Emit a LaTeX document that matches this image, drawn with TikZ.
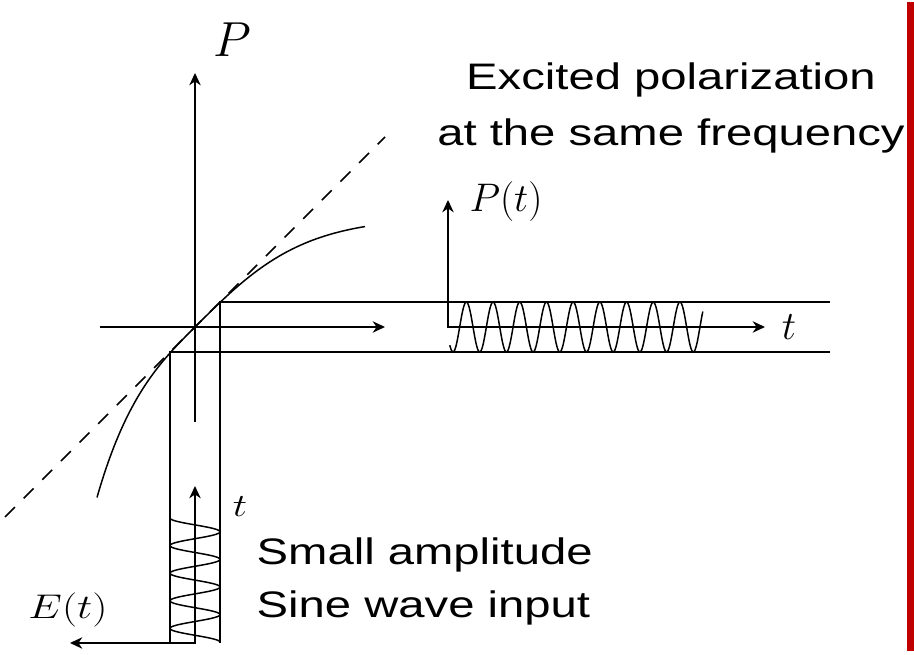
\RequirePackage{fix-cm}
\documentclass[tikz,border=0pt]{standalone}
\usepackage{fontspec}
\usepackage{graphicx}
\newfontfamily\slidefont[FakeStretch=1.28]{Liberation Sans}
\usetikzlibrary{arrows.meta}
\definecolor{slidered}{HTML}{C00000}

\begin{document}
\begin{tikzpicture}[>={Stealth[length=7pt,width=6.5pt,inset=2.2pt]},x=0.02cm,y=0.02cm,line width=0.85pt,
		slidetxt/.style={inner sep=0pt,font=\slidefont\fontsize{21}{25}\selectfont},
		wave/.style={line width=0.85pt}]
	\useasboundingbox (-195,-328) rectangle (719,327);
	% points of the characteristic
	\coordinate (O) at (0,0);
	\coordinate (U) at (25,25);
	\coordinate (L) at (-25,-25);
	\coordinate (Ptop) at (0,254);
	\coordinate (Pbot) at (0,-95);
	\coordinate (Eleft) at (-95,0);
	\coordinate (Eright) at (190,0);
	\coordinate (D1) at (-190,-190);
	\coordinate (D2) at (190,190);
	% band of the output and of the input
	\coordinate (Uend) at (635,25);
	\coordinate (Lend) at (635,-25);
	\coordinate (Ubot) at (25,-316);
	\coordinate (Lbot) at (-25,-316);
	\coordinate (In) at (0,-316);
	\coordinate (InE) at (-125,-316);
	\coordinate (InT) at (0,-159);
	\coordinate (Out) at (253,0);
	\coordinate (OutP) at (253,127);
	\coordinate (OutT) at (570,0);
	\draw[->] (Pbot) -- (Ptop);
	\draw[->] (Eleft) -- (Eright);
	\draw[dash pattern=on 8pt off 7pt] (D1) -- (D2);
	\draw[domain=-98:0,samples=60] plot (\x,{51*sinh(\x/51)}) -- plot[domain=0:170,samples=60] (\x,{110*tanh(\x/110)});
	\draw (Uend) -- (U) -- (Ubot);
	\draw (Lend) -- (L) -- (Lbot);
	\draw[<->] (InE) -- (In) -- (InT);
	\draw[<->] (OutP) -- (Out) -- (OutT);
	% sine waves
	\draw[wave,domain=0:4.5,samples=200] plot ({-25*cos(360*\x)},{-191-27.6*\x});
	\draw[wave,domain=-0.12:9.36,samples=300] plot ({258+26.7*\x},{-25*cos(360*\x)});
	% labels
	\node (plab) at (37,287) {\fontsize{28}{30}\selectfont$P$};
	\node (ptlab) at (311,125) {\fontsize{22.7}{25}\selectfont$P(t)$};
	\node (toutlab) at (594,0) {\fontsize{23}{25}\selectfont$t$};
	\node (tinlab) at (45,-180) {\scalebox{1.25}[1]{\fontsize{18.4}{20}\selectfont$t$}};
	\node (elab) at (-127,-283) {\scalebox{1.25}[1]{\fontsize{19.5}{21}\selectfont$E(t)$}};
	\node[slidetxt,anchor=base] (outtxta) at (476,237) {Excited polarization};
	\node[slidetxt,anchor=base] (outtxtb) at (476,181) {at the same frequency};
	\node[slidetxt,anchor=base west] (intxta) at (61,-238) {Small amplitude};
	\node[slidetxt,anchor=base west] (intxtb) at (61,-291) {Sine wave input};
	\fill[slidered] (712,-324) rectangle (719,325);
\end{tikzpicture}
\end{document}
